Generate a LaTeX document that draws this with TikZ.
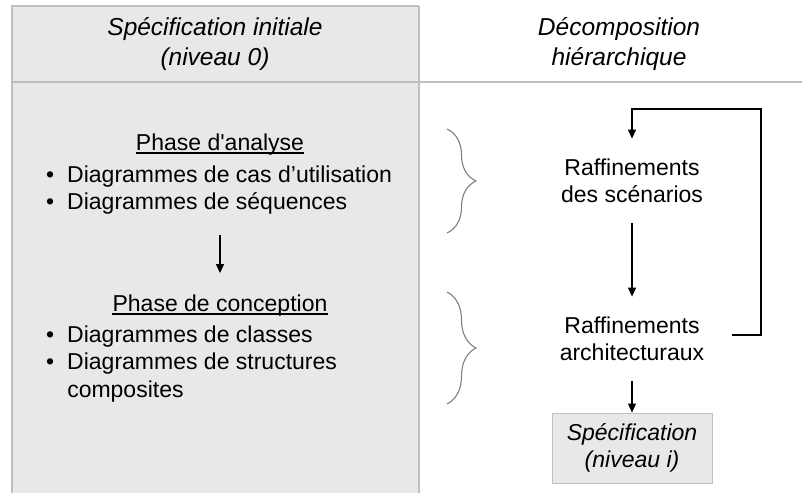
\documentclass[tikz,border=0pt]{standalone}
\usepackage{fontspec}
\setmainfont{Liberation Sans}
\usetikzlibrary{arrows.meta, positioning, decorations.pathreplacing}

\definecolor{fondgris}{HTML}{E8E8E8}
\definecolor{bordure}{HTML}{BFBFBF}
\definecolor{accolade}{HTML}{808080}

\tikzset{
  entete/.style={font=\fontsize{24.5}{30}\selectfont\itshape, align=center, inner sep=0pt},
  texte/.style={font=\fontsize{23}{27.5}\selectfont, align=center, inner xsep=0pt, inner ysep=20pt},
  phase/.style={font=\fontsize{23}{27.5}\selectfont, inner sep=0pt},
  liste/.style={font=\fontsize{23}{27.5}\selectfont, inner sep=0pt, anchor=base west},
  boite/.style={draw=bordure, fill=fondgris, line width=1pt, minimum width=160pt, minimum height=70pt,
    font=\fontsize{23}{27.5}\selectfont\itshape, align=center},
  cadre/.style={bordure, line width=1.6pt},
  fleche/.style={->, line width=1.2pt},
  acc/.style={accolade, line width=1.1pt, decorate, decoration={brace, amplitude=29pt}}
}

\begin{document}
\begin{tikzpicture}[x=1pt, y=-1pt, >={Triangle[length=9pt, width=8pt]}]
\useasboundingbox (0,0) rectangle (802,493);

% Tableau
\fill[fondgris] (12,6) rectangle (419,493);
\draw[cadre] (12,493) -- (12,6) -- (419,6);
\draw[cadre] (419,6) -- (419,493);
\draw[cadre] (12,82) -- (802,82);

% En-tetes
\node[entete] (ent1) at (215,44) {Spécification initiale\\(niveau 0)};
\node[entete] (ent2) at (619,44) {Décomposition\\hiérarchique};

% Phase d'analyse
\node[phase] (pa) at (220,145) {Phase d\textquotesingle analyse};
\draw[line width=1.4pt] ([yshift=-2pt]pa.base west) -- ([yshift=-2pt]pa.base east);
\node[liste] (l1) at (46,182) {\begin{tabular}[t]{@{}l@{\hspace{13pt}}l@{}}
  \textbullet & Diagrammes de cas d’utilisation\\
  \textbullet & Diagrammes de séquences
\end{tabular}};

% Phase de conception
\node[phase] (pc) at (220,306) {Phase de conception};
\draw[line width=1.4pt] ([yshift=-2pt]pc.base west) -- ([yshift=-2pt]pc.base east);
\node[liste] (l2) at (46,342) {\begin{tabular}[t]{@{}l@{\hspace{13pt}}l@{}}
  \textbullet & Diagrammes de classes\\
  \textbullet & Diagrammes de structures\\
              & composites
\end{tabular}};

\draw[fleche, shorten <=17pt, shorten >=22pt] (pa |- l1.south) -- (pc.north);

% Raffinements
\node[texte] (raf1) at (632,181) {Raffinements\\des scénarios};
\node[texte] (raf2) at (632,339) {Raffinements\\architecturaux};
\node[boite] (spec) at (632,448) {Spécification\\(niveau i)};
\coordinate (boucle) at (761,109);

\draw[fleche] (raf1) -- (raf2);
\draw[fleche] (raf2) -- (spec);
\draw[fleche] ([xshift=28pt, yshift=4pt]raf2.east) -| (boucle) -| (raf1.north);

% Accolades
\draw[acc] (447,129) -- (447,233);
\draw[acc] (447,292) -- (447,404);

\end{tikzpicture}
\end{document}
